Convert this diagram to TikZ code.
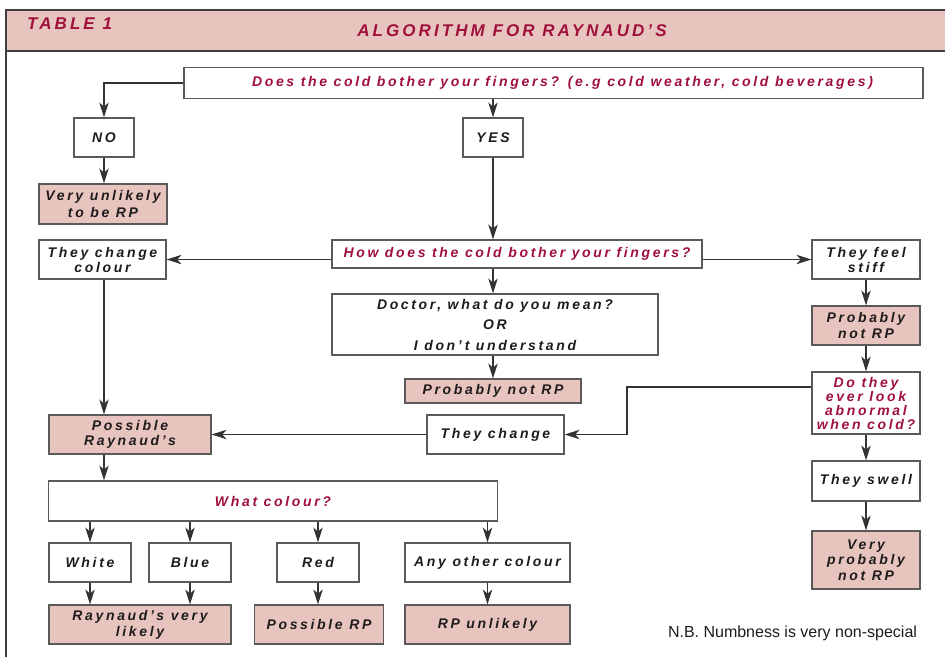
\documentclass[tikz,border=0pt]{standalone}
\usepackage{fontspec}
\usetikzlibrary{arrows.meta}
\setmainfont{Liberation Sans}
\newfontfamily\boxfont[LetterSpace=19]{Liberation Sans}
\newfontfamily\headfont[LetterSpace=18]{Liberation Sans}
\definecolor{rpred}{RGB}{160,16,60}
\definecolor{rppink}{RGB}{232,196,190}
\definecolor{rpgray}{RGB}{90,90,90}
\definecolor{rpink}{RGB}{30,27,28}
\tikzset{
  box/.style={draw=rpgray, line width=1.3pt, fill=white, inner sep=0pt, align=center, text=rpink,
    font=\boxfont\bfseries\itshape\fontsize{14}{15}\selectfont},
  pinkbox/.style={box, fill=rppink},
  qbox/.style={box, text=rpred},
  head/.style={inner sep=0pt, text=rpred, font=\headfont\bfseries\itshape\fontsize{17}{18}\selectfont},
  arr/.style={draw=black!80, line width=1.1pt, -{Stealth[length=15pt,width=9.5pt,inset=4.5pt]}}
}
\begin{document}
\begin{tikzpicture}[x=1pt,y=-1pt]
\useasboundingbox (0,0) rectangle (945,657);
\fill[rppink] (6,9.5) rectangle (945,51);
\draw[line width=2pt, rpgray!70!black] (945,9.5) -- (6,9.5) -- (6,657);
\draw[line width=2pt, rpgray!70!black] (6,51) -- (945,51);
\node[head, anchor=west] (tab) at (27,24) {TABLE 1};
\node[head] (title) at (512,31) {ALGORITHM FOR RAYNAUD’S};

\node[qbox, minimum width=739, minimum height=31] (q1) at (553.5,83) {\hspace*{18pt}Does the cold bother your fingers? (e.g cold weather, cold beverages)};
\node[box, minimum width=60, minimum height=39] (no) at (104,137.5) {NO};
\node[box, minimum width=60, minimum height=39] (yes) at (493,137.5) {YES};
\node[pinkbox, minimum width=128, minimum height=40, font=\boxfont\bfseries\itshape\fontsize{14}{16.5}\selectfont] (vunl) at (103,204) {Very unlikely\\to be RP};
\node[box, minimum width=127, minimum height=39] (tcc) at (102.5,259.5) {They change\\colour};
\node[qbox, minimum width=370, minimum height=28] (how) at (517,254) {How does the cold bother your fingers?};
\node[box, minimum width=108, minimum height=39] (tfs) at (866,259.5) {They feel\\stiff};
\node[box, minimum width=326, minimum height=61] (doc) at (495,324.5) {Doctor, what do you mean?\\[5.5pt]OR\\[5.5pt]I don’t understand};
\node[pinkbox, minimum width=176, minimum height=24] (pnmid) at (493,391) {Probably not RP};
\node[pinkbox, minimum width=108, minimum height=39, font=\boxfont\bfseries\itshape\fontsize{14}{16}\selectfont] (pnright) at (866,325.5) {Probably\\not RP};
\node[qbox, minimum width=108, minimum height=62, font=\boxfont\bfseries\itshape\fontsize{14}{14}\selectfont] (dtel) at (866,403) {Do they\\ever look\\abnormal\\when cold?};
\node[box, minimum width=137, minimum height=39] (tc) at (495.5,434.5) {They change};
\node[pinkbox, minimum width=162, minimum height=39] (pr) at (130,434.5) {Possible\\Raynaud’s};
\node[box, minimum width=108, minimum height=40] (swell) at (866,481) {They swell};
\node[pinkbox, minimum width=108, minimum height=58, font=\boxfont\bfseries\itshape\fontsize{14}{15.5}\selectfont] (vpn) at (866,560) {Very\\probably\\not RP};
\node[qbox, minimum width=449, minimum height=40] (wc) at (273,501) {What colour?};
\node[box, minimum width=82, minimum height=39] (white) at (90,562.5) {White};
\node[box, minimum width=82, minimum height=39] (blue) at (190,562.5) {Blue};
\node[box, minimum width=82, minimum height=39] (red) at (318,562.5) {Red};
\node[box, minimum width=165, minimum height=39] (any) at (487.5,562.5) {Any other colour};
\node[pinkbox, minimum width=182, minimum height=39, font=\boxfont\bfseries\itshape\fontsize{14}{16}\selectfont] (rvl) at (140,624.5) {Raynaud’s very\\likely};
\node[pinkbox, minimum width=129, minimum height=39] (prp) at (319,624.5) {Possible RP};
\node[pinkbox, minimum width=165, minimum height=39] (rpu) at (487.5,624.5) {RP unlikely};
\node[inner sep=0pt, text=rpink, font=\fontsize{16}{18}\selectfont] (nb) at (792.5,633) {N.B. Numbness is very non-special};

\draw[arr] (q1.west) -| (no.north);
\draw[arr] (q1.south -| yes.north) -- (yes.north);
\draw[arr] (no.south) -- (no.south |- vunl.north);
\draw[arr] (yes.south) -- (yes.south |- how.north);
\draw[arr] (how.west |- tcc.east) -- (tcc.east);
\draw[arr] (how.east |- tfs.west) -- (tfs.west);
\draw[arr] (yes.south |- how.south) -- (yes.south |- doc.north);
\draw[arr] (pnmid.north |- doc.south) -- (pnmid.north);
\draw[arr] (tfs.south) -- (pnright.north);
\draw[arr] (pnright.south) -- (dtel.north);
\draw[arr] (dtel.south) -- (swell.north);
\draw[arr] (swell.south) -- (vpn.north);
\coordinate (bend) at (627,387);
\draw[arr] (dtel.west |- bend) -- (bend) |- (tc.east);
\draw[arr] (tc.west) -- (pr.east);
\draw[arr] (no.south |- tcc.south) -- (no.south |- pr.north);
\draw[arr] (no.south |- pr.south) -- (no.south |- wc.north);
\foreach \c in {white,blue,red,any}
  \draw[arr] (\c.north |- wc.south) -- (\c.north);
\draw[arr] (white.south) -- (white.south |- rvl.north);
\draw[arr] (blue.south) -- (blue.south |- rvl.north);
\draw[arr] (red.south) -- (red.south |- prp.north);
\draw[arr] (any.south) -- (rpu.north);
\end{tikzpicture}
\end{document}
